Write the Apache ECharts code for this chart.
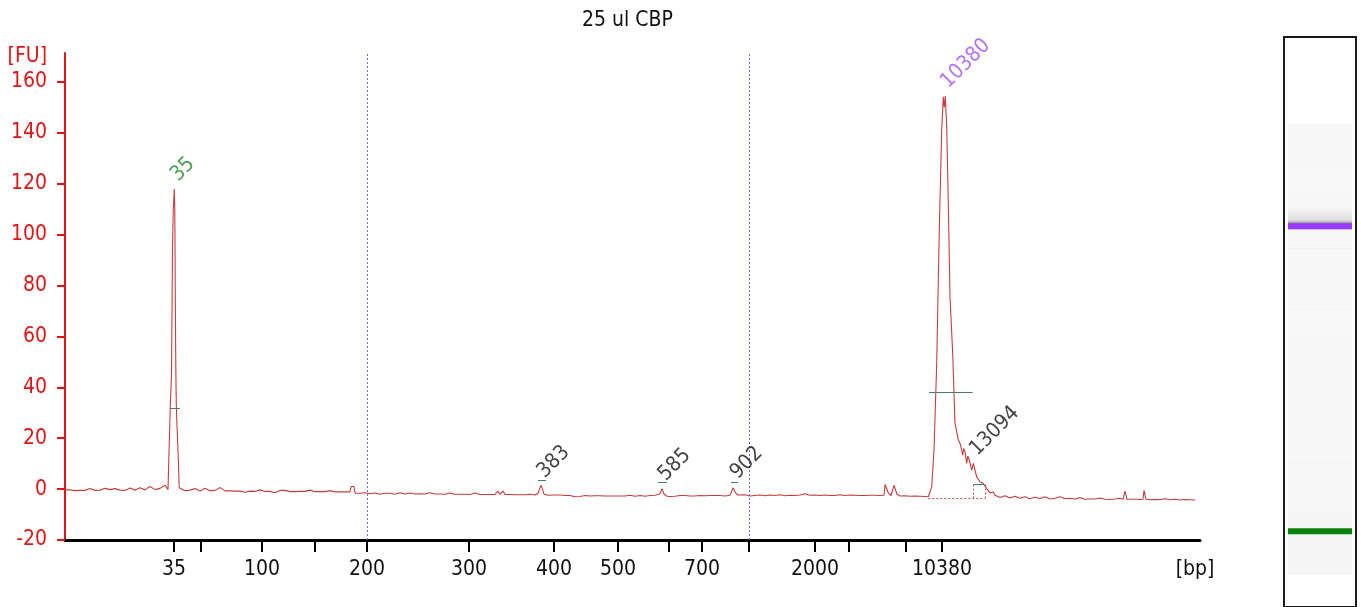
<!DOCTYPE html>
<html><head><meta charset="utf-8">
<script src="https://cdn.jsdelivr.net/npm/echarts@6/dist/echarts.min.js"></script>
<style>html,body{margin:0;padding:0;background:#fff}#c{width:1361px;height:607px}</style>
</head><body><div id="c"></div>
<script>
// Ladder (bp) and the migration time (s) at which each ladder fragment sits
const ladderSizes = ['35','50','100','150','200','300','400','500','600','700','1000','2000','3000','7000','10380'];
const ladderTimes = [50.9,53.6,59.7,65.0,70.2,80.4,88.9,95.3,100.4,103.7,108.4,115.0,118.4,124.1,127.7];
const labeledSizes = ['35','100','200','300','400','500','700','2000','10380'];
const regionSizes = ['200','1000'];
const yTicks = [-20,0,20,40,60,80,100,120,140,160];

// Electropherogram trace: [time (s), fluorescence (FU)]
const trace = [
[40.0,-0.3],[40.5,-0.3],[41.0,-0.6],[41.5,-0.5],[42.0,-0.5],[42.5,0.2],[43.0,-0.5],[43.5,-0.4],[44.0,0.3],[44.5,-0.2],
[45.0,0.2],[45.5,-0.4],[46.0,-0.5],[46.5,0.4],[47.0,-0.4],[47.5,0.5],[48.0,-0.3],[48.5,1.0],[49.0,-0.2],[49.5,0.3],
[50.0,1.5],[50.3,-0.2],[50.5,-0.3],[50.53,33],[50.65,45],[50.75,95],[50.83,110],[50.93,118],[50.98,110],[51.03,75],
[51.08,48],[51.13,33],[51.2,25],[51.35,10],[51.42,0.5],[51.5,-0.2],
[52.0,-0.6],[52.5,-0.4],[53.0,0.2],[53.5,-0.7],[54.0,0.3],[54.5,-0.6],[55.0,-0.5],[55.5,0.6],[56.0,-0.7],[56.5,-0.7],
[57.0,-0.8],[57.5,-0.8],[58.0,-1.2],[58.5,-0.8],[59.0,-0.9],[59.5,-0.3],[60.0,-0.9],[60.5,-0.9],[61.0,-1.4],[61.5,-0.5],
[62.0,-0.5],[62.5,-1.0],[63.0,-1.0],[63.5,-0.9],[64.0,-0.9],[64.5,-0.4],[65.0,-1.0],[65.5,-1.0],[66.0,-1.0],[66.5,-0.6],
[67.0,-1.1],[67.5,-1.1],[68.0,-1.1],[68.5,-1.1],[68.6,1.0],[68.9,1.0],[69.0,-1.6],[69.5,-1.6],
[70.0,-1.4],[70.5,-1.8],[71.0,-1.5],[71.5,-2.0],[72.0,-1.6],[72.5,-1.6],[73.0,-2.0],[73.5,-1.4],[74.0,-1.9],[74.5,-1.5],
[75.0,-1.9],[75.5,-1.8],[76.0,-1.9],[76.5,-1.4],[77.0,-1.9],[77.5,-1.9],[78.0,-2.0],[78.5,-1.5],[79.0,-2.0],[79.5,-2.0],
[80.0,-2.0],[80.5,-2.1],[81.0,-1.5],[81.5,-2.1],[82.0,-2.1],[82.5,-2.1],[83.0,-2.1],[83.3,-0.8],[83.5,-2.1],[83.8,-0.8],
[84.0,-2.1],[84.5,-2.1],[85.0,-2.2],[85.5,-2.2],[86.0,-2.2],[86.5,-2.0],[87.0,-2.3],[87.3,-1.6],[87.5,0.5],[87.6,1.4],
[87.75,0.0],[87.9,-2.0],[88.3,-2.4],[88.5,-2.6],[89.0,-2.3],[89.5,-2.3],
[90.0,-2.5],[90.5,-2.5],[91.0,-3.0],[91.5,-2.9],[92.0,-2.5],[92.5,-2.7],[93.0,-2.6],[93.5,-2.6],[94.0,-2.7],[94.5,-2.7],
[95.0,-2.7],[95.5,-2.7],[96.0,-2.7],[96.5,-2.4],[97.0,-2.8],[97.5,-2.5],[98.0,-2.8],[98.5,-2.5],[99.0,-2.4],[99.5,-1.8],
[99.7,0.2],[99.9,-1.9],[100.2,-2.8],[100.5,-2.9],[101.0,-2.8],[101.5,-2.5],[102.0,-2.5],[102.5,-2.7],[103.0,-2.7],[103.5,-2.5],
[104.0,-2.6],[104.5,-2.5],[105.0,-2.5],[105.5,-2.5],[106.0,-2.7],[106.5,-2.4],[106.8,0.5],[106.9,1.0],[107.05,-1.5],[107.3,-2.3],
[107.5,-2.6],[108.0,-2.2],[108.5,-2.7],
[109.0,-2.5],[109.5,-2.3],[110.0,-2.6],[110.5,-2.3],[111.0,-2.5],[111.5,-2.2],[112.0,-2.6],[112.5,-2.4],[113.0,-2.5],[113.5,-2.3],
[114.0,-1.8],[114.5,-2.4],[115.0,-2.3],[115.5,-2.5],[116.0,-2.3],[116.5,-2.5],[117.0,-2.5],[117.5,-2.2],[118.0,-2.5],[118.5,-2.3],
[119.0,-2.4],[119.5,-2.5],[120.0,-2.5],[120.5,-2.4],[121.0,-2.4],[121.5,-2.5],[121.9,-2.4],[122.0,1.8],[122.2,2.0],[122.35,-1.6],
[122.6,-2.5],[122.9,1.5],[123.05,1.5],[123.2,-2.0],[123.5,-2.7],[124.0,-2.6],[124.5,-2.8],[125.0,-2.7],[125.5,-2.8],[126.0,-2.9],
[126.33,-3.0],[126.67,0.9],[126.9,15.3],[127.17,49.4],[127.43,101.8],[127.67,141],[127.83,154.2],[127.93,150],[128.03,154.5],[128.17,142.4],
[128.33,112.3],[128.5,75.6],[128.77,53.3],[129.0,25.8],[129.33,19.3],[129.55,17.5],[129.77,13.4],[129.88,16],[130.0,14.7],[130.17,10.1],
[130.28,13],[130.43,11.4],[130.67,7.5],[130.83,10.1],[131.0,10.7],[131.17,4.8],[131.3,5.5],[131.5,2.9],[131.83,2.2],[132.17,0.3],
[132.5,-1.5],[132.83,-1.1],
[133.0,-2.4],[133.5,-3.3],[134.0,-2.6],[134.5,-3.5],[135.0,-2.8],[135.5,-3.6],[136.0,-3.0],[136.5,-3.8],[137.0,-3.2],[137.5,-3.7],
[138.0,-3.0],[138.5,-3.9],[139.0,-3.6],[139.5,-3.0],[140.0,-3.8],[140.5,-3.6],[141.0,-3.9],[141.5,-3.3],[142.0,-4.0],[142.5,-3.9],
[143.0,-3.9],[143.5,-3.5],[144.0,-4.0],[144.5,-4.1],[145.0,-3.9],[145.5,-3.6],[145.8,-4.0],[146.0,-0.8],[146.2,-4.0],[146.5,-4.0],
[147.0,-4.0],[147.5,-4.1],[147.8,-4.0],[147.9,-0.5],[148.1,-4.0],[148.5,-4.2],[149.0,-4.1],[149.5,-4.2],[150.0,-3.8],[150.5,-4.2],
[151.0,-4.0],[151.5,-4.3],[152.0,-4.1],[152.5,-4.2],[153.0,-4.3]
];

// Called peaks
const peakSizes  = ['35','383','585','902','10380','13094'];
const peakTimes  = [50.93, 87.6, 99.7, 106.9, 127.93, 130.83];
const peakFU     = [118, 1.4, 0.2, 1.0, 154.5, 10.1];
const peakColors = ['#1f8a1f','#111','#111','#111','#a24cf5','#111'];
const peakStart  = [50.5, 87.3, 99.3, 106.6, 126.4, 130.83];
const peakEnd    = [51.5, 88.1, 100.2, 107.3, 130.77, 131.9];
const peakMarkFU = [31.7, 3.3, 2.6, 2.6, 38.0, 1.8];
// Smear region baseline and boundaries
const smearStart = 126.33, smearEnd = 132.0, smearBase = -3.7, smearSplit = 130.83, smearSplitTop = 1.8;

// Gel lane marker bands
const markerTimes  = [50.85, 127.65];
const markerColors = ['#0a7f0a', '#9a3cff'];

const FONT = '"DejaVu Sans Condensed", "DejaVu Sans", sans-serif';
const RED = '#e31414';
const timeOf = s => ladderTimes[ladderSizes.indexOf(s)];
const sizeAt = v => { for (let i = 0; i < ladderTimes.length; i++) if (Math.abs(ladderTimes[i] - v) < 1e-6) return ladderSizes[i]; return ''; };

const laneData = trace.map((p, i) => [p[0], (trace[i + 1] || [p[0] + 0.5])[0], p[1]]);

const chart = echarts.init(document.getElementById('c'), null, {renderer: 'canvas'});
chart.setOption({
  animation: false,
  backgroundColor: '#fff',
  textStyle: {fontFamily: FONT},
  title: {text: '25 ul CBP', left: 577, top: 5,
    textStyle: {fontFamily: FONT, fontSize: 21, fontWeight: 'normal', color: '#111'}},
  grid: [
    {left: 65, top: 53, width: 1135, height: 487},
    {left: 1284, top: 37, width: 72, height: 570, show: true, borderColor: '#1a1a1a', borderWidth: 2, backgroundColor: '#fff'}
  ],
  xAxis: [
    {type: 'value', gridIndex: 0, min: 40, max: 153.5,
      axisLine: {show: true, onZero: false, lineStyle: {color: '#000', width: 3}},
      axisTick: {show: true, customValues: ladderTimes, length: 12, lineStyle: {color: '#000', width: 2}},
      axisLabel: {customValues: labeledSizes.map(timeOf), formatter: v => sizeAt(v), margin: 19,
        color: '#111', fontSize: 21, fontFamily: FONT},
      splitLine: {show: false},
      name: '[bp]', nameLocation: 'end', nameGap: -5,
      nameTextStyle: {align: 'center', verticalAlign: 'top', padding: [19, 0, 0, 0], color: '#111', fontSize: 21, fontFamily: FONT}
    },
    {type: 'value', gridIndex: 1, min: 0, max: 1, show: false}
  ],
  yAxis: [
    {type: 'value', gridIndex: 0, min: -20, max: 171.4,
      axisLine: {show: true, onZero: false, lineStyle: {color: RED, width: 2}},
      axisTick: {show: true, customValues: yTicks, length: 8, lineStyle: {color: RED, width: 2}},
      axisLabel: {customValues: yTicks, margin: 18, color: RED, fontSize: 21, fontFamily: FONT},
      splitLine: {show: false},
      name: '[FU]', nameLocation: 'end', nameGap: -4,
      nameTextStyle: {align: 'right', verticalAlign: 'middle', padding: [0, 18, 0, 0], color: RED, fontSize: 21, fontFamily: FONT}
    },
    {type: 'value', gridIndex: 1, min: 31.8, max: 175.3, show: false}
  ],
  series: [
    {type: 'line', xAxisIndex: 0, yAxisIndex: 0, data: trace, showSymbol: false, symbol: 'none',
      lineStyle: {color: '#c83c3c', width: 1.1}, silent: true, z: 3,
      markLine: {silent: true, symbol: 'none', label: {show: false},
        lineStyle: {color: '#5c5ce6', type: [2, 2], width: 1, opacity: 0.9},
        data: regionSizes.map(s => ({xAxis: timeOf(s)}))}
    },
    // peak width markers
    {type: 'line', xAxisIndex: 0, yAxisIndex: 0, data: [], silent: true,
      markLine: {silent: true, symbol: 'none', label: {show: false}, animation: false,
        lineStyle: {color: '#3f8070', type: 'solid', width: 1},
        data: peakStart.map((s, i) => [{coord: [s, peakMarkFU[i]]}, {coord: [peakEnd[i], peakMarkFU[i]]}])}
    },
    // smear baseline and split
    {type: 'line', xAxisIndex: 0, yAxisIndex: 0, data: [], silent: true,
      markLine: {silent: true, symbol: 'none', label: {show: false}, animation: false,
        lineStyle: {color: '#d05050', type: [2, 2], width: 1},
        data: [
          [{coord: [smearStart, smearBase]}, {coord: [smearEnd, smearBase]}],
          [{coord: [smearSplit, smearBase]}, {coord: [smearSplit, smearSplitTop]}],
          [{coord: [smearEnd, smearBase]}, {coord: [smearEnd, smearSplitTop]}]
        ]}
    },
    // peak size labels
    {type: 'scatter', xAxisIndex: 0, yAxisIndex: 0, symbolSize: 0, silent: true, z: 5,
      data: peakSizes.map((s, i) => ({value: [peakTimes[i], peakFU[i]], name: s,
        label: {color: peakColors[i]}})),
      label: {show: true, formatter: p => p.name, position: 'top', distance: 11, rotate: 45,
        align: 'left', verticalAlign: 'middle', fontSize: 21, fontFamily: FONT}
    },
    // gel lane intensity
    {type: 'custom', xAxisIndex: 1, yAxisIndex: 1, data: laneData, silent: true,
      renderItem: (params, api) => {
        const cs = params.coordSys;
        const yTop = api.coord([0, api.value(1)])[1];
        const yBot = api.coord([0, api.value(0)])[1];
        const fu = api.value(2);
        const g = Math.max(120, Math.min(247, Math.round(247 - Math.max(0, fu + 1.5) * 1.3)));
        return {type: 'rect', shape: {x: cs.x + 4, y: Math.min(yTop, yBot), width: cs.width - 8, height: Math.abs(yBot - yTop) + 0.6},
          style: {fill: 'rgb(' + g + ',' + g + ',' + g + ')'}};
      }
    },
    // gel lane marker bands
    {type: 'custom', xAxisIndex: 1, yAxisIndex: 1, silent: true, z: 4,
      data: markerTimes.map((t, i) => [t, i]),
      renderItem: (params, api) => {
        const cs = params.coordSys;
        const y = api.coord([0, api.value(0)])[1];
        return {type: 'rect', shape: {x: cs.x + 4, y: y - 3, width: cs.width - 8, height: 6},
          style: {fill: markerColors[api.value(1)]}};
      }
    }
  ]
});
</script></body></html>
